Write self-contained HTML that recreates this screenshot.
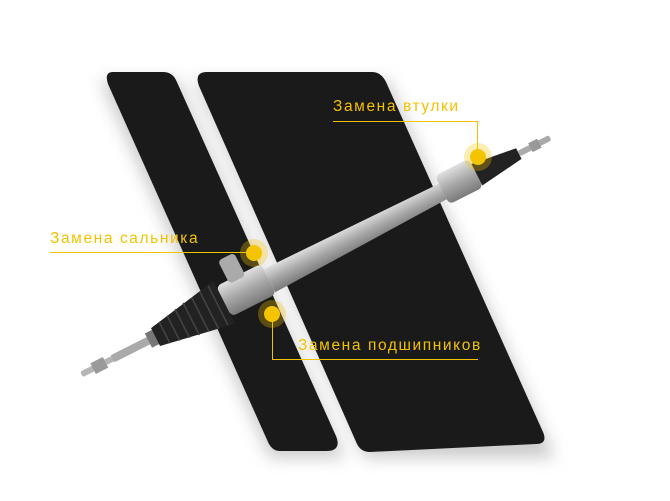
<!DOCTYPE html>
<html><head><meta charset="utf-8"><style>
body{margin:0;background:#fff;width:670px;height:496px;overflow:hidden;font-family:"Liberation Sans",sans-serif}
</style></head><body>
<svg width="670" height="496" viewBox="0 0 670 496" xmlns="http://www.w3.org/2000/svg">
<defs>
<filter id="sh" x="-30%" y="-30%" width="160%" height="160%"><feGaussianBlur stdDeviation="8"/></filter>
<linearGradient id="metal" x1="0" y1="0" x2="0" y2="1"><stop offset="0" stop-color="#e0e0e0"/><stop offset="0.5" stop-color="#a8a8a8"/><stop offset="1" stop-color="#7a7a7a"/></linearGradient>
</defs>
<g fill="#999" opacity="0.5" filter="url(#sh)">
<path d="M100 80 L178 80 L345 458 L270 458 Z"/>
<path d="M195 80 L388 80 L555 458 L365 458 Z"/>
</g>
<path d="M113 72 L163 72 Q172 72 176 80 L336 436 Q342 451 326 451 L280 451 Q272 451 268 442 L108 84 Q104 72 113 72 Z" fill="#1a1a1a"/>
<path d="M207 72 L372 72 Q381 72 386 82 L543 432 Q548 444 536 444 L370 452 Q361 452 357 444 L199 86 Q194 72 207 72 Z" fill="#1a1a1a"/>
<!-- rack -->
<g transform="translate(318,255) rotate(-26.8)">
<rect x="-265" y="-3" width="40" height="6" rx="2" fill="#b5b5b5"/>
<rect x="-252" y="-6" width="14" height="12" fill="#9a9a9a"/>
<rect x="-230" y="-4" width="45" height="8" fill="#aaa"/>
<rect x="-190" y="-8" width="10" height="16" fill="#777"/>
<path d="M-182 -10 L-105 -24 L-105 24 L-182 10 Z" fill="#222"/>
<g stroke="#444" stroke-width="1.5"><line x1="-172" y1="-12" x2="-172" y2="12"/><line x1="-162" y1="-14" x2="-162" y2="14"/><line x1="-152" y1="-16" x2="-152" y2="16"/><line x1="-142" y1="-18" x2="-142" y2="18"/><line x1="-132" y1="-19" x2="-132" y2="19"/><line x1="-122" y1="-21" x2="-122" y2="21"/><line x1="-112" y1="-22" x2="-112" y2="22"/></g>
<rect x="-105" y="-18" width="50" height="34" rx="5" fill="url(#metal)"/>
<rect x="-92" y="-40" width="18" height="26" rx="4" fill="#aaa"/>
<path d="M-55 -12 L150 -9 L150 8 L-55 14 Z" fill="url(#metal)"/>
<rect x="140" y="-18" width="38" height="32" rx="5" fill="url(#metal)"/>
<path d="M178 -12 L225 -6 L225 6 L178 12 Z" fill="#222"/>
<rect x="225" y="-3" width="35" height="6" rx="2" fill="#aaa"/>
<rect x="238" y="-5" width="10" height="10" fill="#999"/>
</g>
<!-- callouts -->
<g fill="none" stroke="#f2c200" stroke-width="1">
<polyline points="333,121.5 477.5,121.5 477.5,150"/>
<line x1="50" y1="252.5" x2="250" y2="252.5"/>
<polyline points="272.5,318 272.5,359.5 478,359.5"/>
</g>
<g fill="#f5c400">
<circle cx="478" cy="157" r="14" opacity="0.3"/><circle cx="478" cy="157" r="8"/>
<circle cx="254" cy="253" r="14" opacity="0.3"/><circle cx="254" cy="253" r="8"/>
<circle cx="272" cy="314" r="14" opacity="0.3"/><circle cx="272" cy="314" r="8"/>
</g>
<g fill="#f2c200" font-family="Liberation Sans, sans-serif" font-size="15.5" letter-spacing="1.6">
<text x="333" y="111">Замена втулки</text>
<text x="50" y="243">Замена сальника</text>
<text x="298" y="350">Замена подшипников</text>
</g>
</svg>
</body></html>
